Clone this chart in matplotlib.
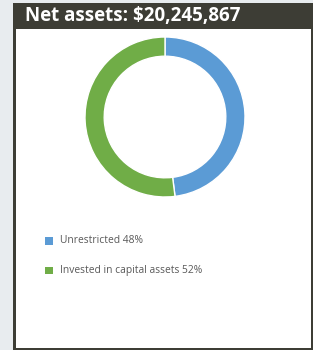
import matplotlib.pyplot as plt
import matplotlib.patches as mpatches

title = 'Net assets: $20,245,867'
labels = ['Unrestricted', 'Invested in capital assets']
shares = [48, 52]
colors = ['#5b9bd5', '#70ad47']

W, H = 313, 350
fig = plt.figure(figsize=(W / 100, H / 100), dpi=100)
fig.patch.set_facecolor('#e8ecef')

# pixel-space background axes (y grows downward)
bg = fig.add_axes([0, 0, 1, 1])
bg.set_xlim(0, W)
bg.set_ylim(H, 0)
bg.axis('off')
dark = '#3d3d35'
bg.add_patch(mpatches.Rectangle((13, 3), W - 13, H - 3, facecolor=dark, edgecolor='none'))
bg.add_patch(mpatches.Rectangle((15.5, 29), W - 15.5 - 2.5, H - 29 - 2.5, facecolor='white', edgecolor='none'))
bg.text(25, 15.5, title, color='white', fontsize=13.5, fontweight='bold',
        family='Open Sans', va='center', ha='left')

# legend
for i, (lab, val, c) in enumerate(zip(labels, shares, colors)):
    y = 240.5 + i * 29.5
    bg.add_patch(mpatches.Rectangle((45, y - 3.5), 7.5, 7.5, facecolor=c, edgecolor='none'))
    bg.text(60.5, y, f'{lab} {val}%', color='#595959', fontsize=7.4,
            family='Open Sans', va='center', ha='left')

# donut
cx, cy, r = 165, 117, 80
ax = fig.add_axes([(cx - r) / W, (H - cy - r) / H, 2 * r / W, 2 * r / H])
ax.pie(shares, colors=colors, startangle=90, counterclock=False,
       wedgeprops=dict(width=0.24, edgecolor='white', linewidth=1))
ax.set_aspect('equal')
ax.set_xlim(-1, 1)
ax.set_ylim(-1, 1)

fig.savefig('out.png', dpi=100, facecolor=fig.get_facecolor())
